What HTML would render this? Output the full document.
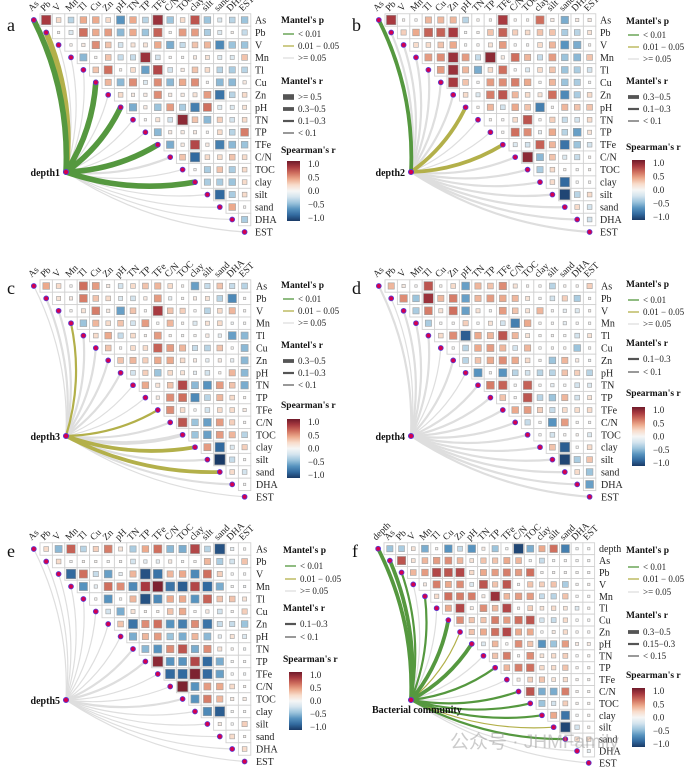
<!DOCTYPE html>
<html><head><meta charset="utf-8"><style>
html,body{margin:0;padding:0;background:#fff;}
svg{display:block;font-family:"Liberation Serif","Noto Serif CJK SC",serif;}
</style></head><body>
<svg id="fig" width="689" height="772" viewBox="0 0 689 772" xmlns="http://www.w3.org/2000/svg">
<defs>
<linearGradient id="rdbu" x1="0" y1="0" x2="0" y2="1">
<stop offset="0" stop-color="#6f1a2a"/><stop offset="0.1" stop-color="#a83a40"/><stop offset="0.2" stop-color="#cf6f5e"/><stop offset="0.3" stop-color="#eca98c"/><stop offset="0.4" stop-color="#f8dccb"/><stop offset="0.5" stop-color="#f6f6f6"/><stop offset="0.6" stop-color="#d4e4ee"/><stop offset="0.7" stop-color="#9cc4dc"/><stop offset="0.8" stop-color="#5793bf"/><stop offset="0.9" stop-color="#326a9f"/><stop offset="1" stop-color="#1a3a66"/>
</linearGradient>
</defs>
</svg>
<script>
const varsMain = ["As","Pb","V","Mn","Tl","Cu","Zn","pH","TN","TP","TFe","C/N","TOC","clay","silt","sand","DHA","EST"];
const varsF = ["depth","As","Pb","V","Mn","Tl","Cu","Zn","pH","TN","TP","TFe","C/N","TOC","clay","silt","sand","DHA","EST"];
const corrA = [
[0.8,0.2,-0.3,0.4,0.4,0.2,-0.6,0.4,-0.3,0.85,-0.4,0.2,0.7,-0.4,-0.15,-0.3,-0.4],
[0.05,-0.15,0.6,0.4,0.45,-0.45,0.4,-0.4,0.65,0.02,0.45,0.45,-0.35,-0.15,0.05,-0.25],
[0.05,0.1,0.5,0.3,-0.2,0.15,0.15,0.4,-0.5,-0.25,0.3,0.35,-0.65,-0.4,-0.4],
[-0.45,0.03,0.3,-0.25,-0.25,0.85,-0.2,0.03,0.02,0.1,0.15,-0.15,-0.15,0.3],
[0.3,0.6,0.05,0.2,-0.55,0.75,-0.2,0.1,0.3,0.2,-0.3,-0.35,-0.3],
[0.35,-0.45,0.5,-0.15,0.5,-0.45,0.4,0.5,0.03,-0.45,-0.45,0.1],
[0.2,0.1,0.1,0.5,0.1,0.1,0.15,0.45,-0.75,-0.3,0.2],
[-0.5,0.1,-0.4,0.45,-0.35,-0.7,0.6,-0.15,-0.15,0.15],
[0.03,0.15,-0.2,0.9,0.3,-0.45,0.25,-0.2,0.2],
[-0.45,0.1,0.1,0.1,0.03,0.2,-0.3,0.55],
[-0.5,0.1,0.75,0.1,-0.7,-0.45,-0.4],
[0.3,-0.8,0.2,0.2,0.3,0.2],
[0.03,-0.35,0.3,-0.35,0.2],
[-0.35,-0.35,-0.4,0.2],
[-0.8,-0.35,0.2],
[0.4,0.03],
[-0.35]];
const corrB = [
[0.8,0.05,0.03,0.35,0.35,0.35,-0.3,0.05,0.05,0.8,0.05,0.05,0.6,0.1,-0.5,0.1,0.1],
[0.25,0.4,0.65,0.65,0.8,0.01,0.05,0.3,0.65,0.25,0.2,0.3,0.3,-0.35,-0.3,0.15],
[0.2,0.2,0.3,0.4,0.01,0.05,0.15,0.45,0.02,0.03,0.2,0.35,-0.6,-0.5,0.05],
[0.45,0.5,0.85,0.45,-0.25,0.9,0.1,0.6,0.35,-0.25,0.45,-0.4,-0.45,0.3],
[0.45,0.85,0.35,-0.5,0.2,0.6,0.03,-0.15,0.2,0.3,-0.4,-0.35,-0.2],
[0.8,0.3,0.02,0.45,0.5,0.55,0.4,0.03,0.35,-0.4,-0.35,0.01],
[0.2,-0.15,0.55,0.7,0.35,0.2,0.15,0.6,-0.65,-0.35,0.2],
[0.05,0.35,-0.2,0.4,0.3,-0.7,0.03,0.35,0.3,0.3],
[0.05,0.02,0.2,0.7,0.03,0.25,-0.25,-0.2,0.2],
[0.02,0.6,0.5,-0.1,0.4,-0.3,-0.55,0.15],
[-0.15,-0.2,0.65,0.35,-0.75,-0.4,-0.2],
[0.9,-0.45,0.3,-0.15,-0.25,0.05],
[-0.35,0.2,0.05,0.02,0.05],
[0.2,-0.8,0.01,0.03],
[-0.95,-0.3,0.2],
[0.2,-0.2],
[-0.2]];
const corrC = [
[0.4,0.2,0.03,0.6,0.45,0.1,-0.2,0.2,0.3,0.35,0.2,0.05,-0.55,-0.25,0.3,-0.25,-0.3],
[0.15,0.1,0.55,0.3,0.2,-0.15,-0.2,0.1,0.45,-0.1,0.03,0.1,0.15,-0.3,-0.65,0.03],
[0.03,0.15,0.55,0.1,-0.55,0.3,0.02,0.8,0.3,0.25,0.02,-0.3,0.2,0.35,0.03],
[-0.4,0.35,0.2,0.3,-0.2,0.45,0.01,0.35,0.05,-0.15,0.15,0.2,-0.05,0.01],
[0.2,0.4,-0.25,0.2,0.05,0.45,0.05,0.02,0.03,0.1,-0.1,-0.55,-0.45],
[0.3,0.02,0.2,0.2,0.65,0.45,0.35,-0.25,-0.3,0.3,0.03,-0.45],
[0.3,0.35,0.25,0.4,0.4,0.2,0.1,-0.1,0.1,-0.1,-0.45],
[-0.2,0.25,-0.4,0.2,0.15,-0.1,-0.2,0.05,0.35,-0.45],
[0.4,0.15,0.3,0.75,-0.45,-0.6,0.45,0.3,-0.5],
[0.1,0.5,0.6,-0.65,-0.3,0.35,0.2,0.05],
[0.5,0.2,0.02,-0.2,0.2,0.2,0.1],
[0.7,-0.4,-0.55,0.45,0.25,0.03],
[-0.4,-0.55,0.45,0.35,-0.3],
[0.45,-0.8,-0.15,0.25],
[-1.0,-0.25,0.03],
[0.2,-0.2],
[0.01]];
const corrD = [
[0.35,0.1,0.03,0.7,0.05,0.2,-0.55,0.35,0.3,0.5,0.15,0.05,0.03,-0.3,0.05,0.05,0.25],
[0.5,-0.4,0.85,0.35,0.55,-0.55,0.35,0.45,0.4,0.35,0.15,0.01,-0.2,0.25,-0.35,0.03],
[-0.35,0.55,0.15,0.6,-0.55,0.15,0.01,0.45,0.3,0.15,0.35,0.03,-0.1,-0.15,0.05],
[-0.35,0.01,0.03,0.25,0.01,0.15,-0.2,-0.7,0.4,0.03,0.02,-0.1,0.02,0.01],
[0.2,0.5,-0.85,0.4,0.35,0.7,0.35,0.15,0.03,0.03,0.01,-0.2,0.15],
[0.03,-0.3,0.4,0.45,0.35,-0.2,0.35,0.01,0.03,0.05,-0.4,0.03],
[-0.3,0.3,0.4,0.5,0.4,0.2,0.05,-0.4,0.35,0.1,-0.05],
[-0.6,0.03,-0.6,-0.3,-0.2,-0.3,-0.3,0.3,0.25,-0.3],
[0.55,0.65,0.01,0.65,0.03,-0.1,0.01,-0.2,-0.15],
[0.3,0.02,0.7,-0.3,-0.4,0.35,-0.2,0.15],
[0.4,0.45,0.25,-0.25,0.2,0.2,0.2],
[-0.25,0.03,-0.6,0.45,0.03,0.01],
[0.01,-0.2,0.03,0.05,-0.15],
[0.3,-0.85,0.01,0.2],
[-0.95,-0.35,0.3],
[0.2,-0.4],
[-0.55]];
const corrE = [
[0.2,-0.45,0.65,-0.3,0.25,0.55,0.15,-0.35,0.4,0.6,-0.45,-0.5,0.75,-0.3,-0.9,-0.1,0.03],
[0.2,0.01,0.05,0.05,0.01,0.03,-0.2,-0.1,-0.1,0.1,0.01,0.03,0.35,-0.35,-0.2,0.3],
[-0.8,0.6,-0.25,-0.55,-0.1,0.35,-0.9,-0.75,0.35,0.4,-0.65,0.6,0.25,0.01,0.01],
[-0.6,-0.1,0.6,0.5,-0.65,0.8,0.95,-0.75,-0.85,0.75,-0.8,-0.5,0.01,-0.05],
[0.03,-0.6,0.03,0.35,-0.9,-0.65,0.4,0.4,-0.6,0.65,0.3,0.3,0.15],
[-0.2,-0.5,0.15,0.05,0.05,0.3,0.4,0.03,0.1,-0.2,0.03,0.25],
[0.3,-0.75,0.5,0.6,-0.6,-0.7,0.5,-0.75,-0.25,-0.25,-0.4],
[-0.5,0.35,0.45,-0.4,-0.5,0.35,-0.45,-0.1,0.15,-0.15],
[-0.45,-0.6,0.5,0.7,-0.5,0.5,0.15,0.05,-0.05],
[0.9,-0.6,-0.6,0.75,-0.8,-0.5,0.01,0.01],
[-0.8,-0.8,0.95,-0.8,-0.55,0.0,-0.05],
[0.95,-0.6,0.45,0.4,0.2,0.05],
[-0.6,0.55,0.35,0.1,0.1],
[-0.65,-0.85,0.01,0.01],
[0.1,0.01,0.25],
[0.2,0.05],
[0.2]];
const corrF = [
[-0.4,-0.35,0.15,-0.5,0.05,-0.6,-0.25,-0.6,0.1,-0.4,0.01,-0.95,-0.5,0.4,0.6,-0.7,-0.05,0.01],
[0.7,0.15,0.35,0.45,0.5,0.35,0.15,0.3,0.3,0.4,0.35,0.01,-0.25,-0.01,0.01,0.01,0.01],
[0.35,0.45,0.75,0.7,0.75,0.2,0.4,0.45,0.55,0.45,0.6,0.03,0.03,0.03,0.03,0.03],
[0.1,0.55,0.4,0.5,-0.15,0.7,0.3,0.7,0.01,0.3,0.25,0.3,-0.35,0.03,0.05],
[0.2,0.6,0.55,0.55,0.1,0.85,0.35,0.45,0.45,-0.25,-0.3,0.3,0.01,0.02],
[0.4,0.75,0.1,0.5,0.35,0.75,0.05,0.25,0.15,0.2,0.15,-0.15,0.05],
[0.5,0.3,0.3,0.55,0.45,0.6,0.7,-0.2,-0.25,0.2,0.01,0.01],
[0.3,0.4,0.6,0.75,0.4,0.4,0.01,0.1,0.2,0.05,0.03],
[-0.15,0.35,0.03,0.5,0.3,-0.6,-0.4,0.45,0.1,0.1],
[0.3,0.55,0.03,0.5,0.15,0.2,0.25,0.01,0.05],
[0.35,0.55,0.6,0.2,0.2,0.3,0.05,0.05],
[0.1,0.25,0.3,0.15,0.2,0.05,0.05],
[0.7,-0.5,-0.5,0.55,0.05,0.05],
[-0.4,-0.2,0.25,0.05,0.05],
[0.4,-0.75,0.01,0.05],
[-0.95,-0.2,0.05],
[0.2,0.2],
[-0.1]];
// Mantel p class per variable: 0 = <0.01, 1 = 0.01-0.05, 2 = >=0.05
const mantelPA = [0,1,2,2,2,0,2,0,2,2,0,2,2,0,2,2,2,2];
const mantelRA = [3,3,0,0,0,3,0,3,0,0,3,1,0,3,0,0,0,0];
const mantelPB = [0,2,2,2,2,2,2,1,2,2,1,2,2,2,2,2,2,2];
const mantelRB = [2,1,1,1,1,1,1,2,0,0,2,1,1,1,1,1,1,1];
const mantelPC = [2,2,2,1,2,2,2,2,2,2,1,2,2,1,2,1,2,2];
const mantelRC = [0,1,1,1,1,1,1,1,0,0,1,1,2,2,1,2,1,0];
const mantelPD = [2,2,2,2,2,2,2,2,2,2,2,2,2,2,2,2,2,2];
const mantelRD = [1,0,1,1,1,0,1,0,1,1,1,1,1,1,1,1,1,1];
const mantelPE = [2,2,2,2,2,2,2,2,2,2,2,2,2,2,2,2,2,2];
const mantelRE = [0,0,0,0,0,0,0,0,1,1,0,0,1,0,0,0,0,0];
const mantelPF = [0,0,0,2,0,2,0,1,0,2,0,2,0,0,0,1,0,2,2];
const mantelRF = [2,2,1,0,1,0,2,0,2,0,1,0,1,1,1,0,1,0,0];
const spearTicks = ["1.0","0.5","0.0","\u22120.5","\u22121.0"];
const pLabels = ["< 0.01","0.01 \u2212 0.05",">= 0.05"];
</script>
<script>
const NS = "http://www.w3.org/2000/svg";
const svg = document.getElementById("fig");
function mk(tag, attrs, parent){
  const e = document.createElementNS(NS, tag);
  for (const k in attrs) e.setAttribute(k, attrs[k]);
  (parent||svg).appendChild(e);
  return e;
}
const stops=[[-1,[26,58,102]],[-0.8,[50,106,159]],[-0.6,[87,147,191]],[-0.4,[156,196,220]],[-0.2,[212,228,238]],[0,[246,246,246]],[0.2,[248,220,203]],[0.4,[236,169,140]],[0.6,[207,111,94]],[0.8,[168,58,64]],[1,[111,26,42]]];
function col(r){
  r=Math.max(-1,Math.min(1,r));
  for(let i=0;i<stops.length-1;i++){
    const a=stops[i],b=stops[i+1];
    if(r>=a[0]&&r<=b[0]){const t=(r-a[0])/(b[0]-a[0]);
      const c=a[1].map((v,k)=>Math.round(v+(b[1][k]-v)*t));
      return "rgb("+c.join(",")+")";}
  }
  return "#f6f6f6";
}
const pCol = ["#55983f","#b3b04a","#dedede"];
const rW = [1.2,2.2,3.8,5.6];

function panel(cfg){
  const g = mk("g",{transform:"translate("+cfg.ox+","+cfg.oy+")"});
  
  
  const vars=cfg.vars, n=vars.length, cw=cfg.cw, rh=cfg.rh, gx=cfg.gx;
  const yc = i => cfg.row0 + i*rh;
  const dotX = i => gx + (i-1)*cw + cw/2;
  const lg = mk("g",{},g);
  
  
  const order=[...Array(n).keys()].sort((a,b)=>cfg.mp[b]-cfg.mp[a]);
  order.forEach(i=>{
    const x0=cfg.node[0],y0=cfg.node[1],x1=dotX(i),y1=yc(i);
    const dx=x1-x0,dy=y1-y0,k=0.13;
    const cx=(x0+x1)/2-dy*k, cy=(y0+y1)/2+dx*k;
    const p=mk("path",{d:"M"+x0+","+y0+" Q"+cx.toFixed(1)+","+cy.toFixed(1)+" "+x1.toFixed(1)+","+y1.toFixed(1),fill:"none",stroke:pCol[cfg.mp[i]],"stroke-width":rW[cfg.mr[i]],"stroke-linecap":"round"},lg);
    
    
  });
  const hg = mk("g",{},g);
  
  
  for(let i=0;i<n-1;i++){
    const row=cfg.corr[i];
    for(let jj=0;jj<row.length;jj++){
      const j=i+1+jj, x=gx+(j-1)*cw, y=yc(i)-rh/2;
      mk("rect",{x:x,y:y,width:cw,height:rh,fill:"#fff",stroke:"#d2d2d2","stroke-width":0.9},hg);
      const r=row[jj], s=Math.max(2.4,(Math.min(cw,rh)-1.8)*Math.sqrt(Math.abs(r)));
      const c=mk("rect",{x:(x+cw/2-s/2).toFixed(2),y:(y+rh/2-s/2).toFixed(2),width:s.toFixed(2),height:s.toFixed(2),fill:col(r),stroke:"#a0a0a0","stroke-width":0.6},hg);
      
      
    }
  }
  for(let i=0;i<n;i++){
    const d=mk("circle",{cx:dotX(i),cy:yc(i),r:2.4,fill:"#d4004f",stroke:"#5a3ad0","stroke-width":0.9},g);
    
    
  }
  const nd=mk("circle",{cx:cfg.node[0],cy:cfg.node[1],r:2.6,fill:"#d4004f",stroke:"#5a3ad0","stroke-width":0.9},g);
  
  
  for(let i=0;i<n;i++){
    const t=mk("text",{x:cfg.labelX,y:yc(i)+3.5,"font-size":10,fill:"#222"},g);
    t.textContent=vars[i];
    
    
  }
  for(let i=0;i<n;i++){
    const x=dotX(i)-2, y=cfg.row0-rh/2-2;
    const t=mk("text",{x:x,y:y,"font-size":9.5,fill:"#222",transform:"rotate(-45 "+x+" "+y+")"},g);
    t.textContent=vars[i];
    
    
  }
  const nl=mk("text",{x:cfg.nlab[0],y:cfg.nlab[1],"font-size":10,"font-weight":"bold","text-anchor":cfg.nlab[2],fill:"#111"},g);
  nl.textContent=cfg.nodeText;
  
  
  const pl=mk("text",{x:7,y:cfg.letterY,"font-size":18,fill:"#111"},g);
  pl.textContent=cfg.letter;
  
  
  const L=cfg.leg, lx=cfg.legX;
  const lgd=mk("g",{},g);
  
  
  const tt=(txt,y)=>{const t=mk("text",{x:lx,y:y,"font-size":9.5,"font-weight":"bold",fill:"#111"},lgd);t.textContent=txt;return t;};
  tt("Mantel's p",L.pT);
  L.pI.forEach((y,k)=>{
    mk("line",{x1:lx+2,x2:lx+13,y1:y,y2:y,stroke:pCol[k],"stroke-width":1.3},lgd);
    const t=mk("text",{x:lx+17,y:y+3,"font-size":9,fill:"#222"},lgd);t.textContent=pLabels[k];
    
    
  });
  tt("Mantel's r",L.rT);
  L.rI.forEach((y,k)=>{
    const w=rW[L.rCls[k]];
    mk("rect",{x:lx+2,y:y-w/2,width:11,height:w,fill:"#555"},lgd);
    const t=mk("text",{x:lx+17,y:y+3,"font-size":9,fill:"#222"},lgd);t.textContent=L.rLab[k];
    
    
  });
  tt("Spearman's r",L.sT);
  const bt=L.b0-3, bb=L.b1+3;
  const bar=mk("rect",{x:lx+6,y:bt,width:13,height:bb-bt,fill:"url(#rdbu)"},lgd);
  
  
  spearTicks.forEach((s,k)=>{
    const y=L.b0+(L.b1-L.b0)*k/4;
    const t=mk("text",{x:lx+27,y:y+3,"font-size":9,fill:"#222"},lgd);t.textContent=s;
    
    
  });
}
const r4=[">= 0.5","0.3\u22120.5","0.1\u22120.3","< 0.1"];
const r3=["0.3\u22120.5","0.1\u22120.3","< 0.1"];
panel({name:"panel-a",letter:"a",letterY:31,ox:0,oy:0,vars:varsMain,corr:corrA,mp:mantelPA,mr:mantelRA,row0:20,rh:12.47,gx:40,cw:12.4,labelX:255,node:[66,172],nodeText:"depth1",nlab:[60,176,"end"],legX:281,
 leg:{pT:23,pI:[34,46,58],rT:84,rI:[97,109,121,133],rCls:[3,2,1,0],rLab:r4,sT:153,b0:164,b1:218}});
panel({name:"panel-b",letter:"b",letterY:31,ox:345,oy:0,vars:varsMain,corr:corrB,mp:mantelPB,mr:mantelRB,row0:20,rh:12.47,gx:40,cw:12.4,labelX:255,node:[66,172],nodeText:"depth2",nlab:[60,176,"end"],legX:281,
 leg:{pT:24,pI:[35,47,59],rT:84,rI:[97,109,121],rCls:[2,1,0],rLab:r3,sT:150,b0:163,b1:217}});
panel({name:"panel-c",letter:"c",letterY:36,ox:0,oy:258,vars:varsMain,corr:corrC,mp:mantelPC,mr:mantelRC,row0:28,rh:12.4,gx:40,cw:12.4,labelX:256,node:[66,178],nodeText:"depth3",nlab:[60,182,"end"],legX:281,
 leg:{pT:30,pI:[41,53,65],rT:90,rI:[103,115,127],rCls:[2,1,0],rLab:r3,sT:150,b0:164,b1:217}});
panel({name:"panel-d",letter:"d",letterY:36,ox:345,oy:258,vars:varsMain,corr:corrD,mp:mantelPD,mr:mantelRD,row0:28,rh:12.4,gx:40,cw:12.4,labelX:256,node:[66,178],nodeText:"depth4",nlab:[60,182,"end"],legX:281,
 leg:{pT:29,pI:[42,54,66],rT:88,rI:[101,114],rCls:[1,0],rLab:["0.1\u22120.3","< 0.1"],sT:138,b0:152,b1:205}});
panel({name:"panel-e",letter:"e",letterY:42,ox:0,oy:515,vars:varsMain,corr:corrE,mp:mantelPE,mr:mantelRE,row0:34,rh:12.5,gx:40,cw:12.4,labelX:256,node:[66,185],nodeText:"depth5",nlab:[60,189,"end"],legX:283,
 leg:{pT:38,pI:[51,64,76],rT:96,rI:[109,122],rCls:[1,0],rLab:["0.1\u22120.3","< 0.1"],sT:147,b0:160,b1:212}});
panel({name:"panel-f",letter:"f",letterY:42,ox:345,oy:515,vars:varsF,corr:corrF,mp:mantelPF,mr:mantelRF,row0:33.7,rh:11.9,gx:39,cw:11.7,labelX:254,node:[66,185],nodeText:"Bacterial community",nlab:[27,198,"start"],legX:281,
 leg:{pT:38,pI:[52,64,77],rT:103,rI:[117,129,141],rCls:[2,1,0],rLab:["0.3\u22120.5","0.15\u22120.3","< 0.15"],sT:163,b0:176,b1:229}});
const wm=mk("text",{x:450,y:748,"font-size":19,fill:"#9a9a9a","fill-opacity":0.5,"font-family":"'Liberation Sans','Noto Sans CJK SC',sans-serif"});
wm.textContent="\u516C\u4F17\u53F7 \u00B7 JHMFamily";


</script>
</body></html>
